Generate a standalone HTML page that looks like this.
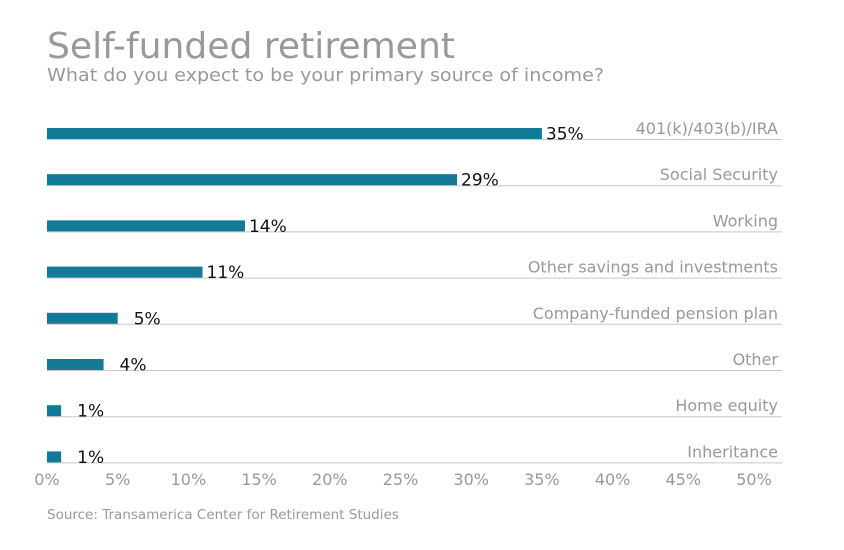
<!DOCTYPE html>
<html><head><meta charset="utf-8"><style>
html,body{margin:0;padding:0;background:#fff;}
svg{display:block;font-family:"DejaVu Sans","Liberation Sans",sans-serif;}
</style></head><body>
<svg id="chart" width="844" height="550">
<text x="47" y="58" font-size="36" fill="#999" textLength="408" lengthAdjust="spacingAndGlyphs">Self-funded retirement</text>
<text x="47" y="81" font-size="18" fill="#999" textLength="557" lengthAdjust="spacingAndGlyphs">What do you expect to be your primary source of income?</text>
<g id="rows"></g>
<g id="ticks"></g>
<text x="47" y="519" font-size="13.5" fill="#999">Source: Transamerica Center for Retirement Studies</text>
</svg>
<script>
const categories = ["401(k)/403(b)/IRA","Social Security","Working","Other savings and investments","Company-funded pension plan","Other","Home equity","Inheritance"];
const values = [35,29,14,11,5,4,1,1];
const tickValues = [0,5,10,15,20,25,30,35,40,45,50];
const NS="http://www.w3.org/2000/svg";
const x0=47, pxPer=14.14, rowTop=139, rowStep=46.2, lineEnd=782;
const xs=v=>x0+v*pxPer;
const ys=i=>rowTop+i*rowStep;
function mk(t,a,p){const e=document.createElementNS(NS,t);for(const k in a)e.setAttribute(k,a[k]);p.appendChild(e);return e;}
const rows=document.getElementById('rows');
categories.forEach((c,i)=>{
  const y=ys(i);
  const ln=mk('line',{x1:x0,x2:lineEnd,y1:y+0.5,y2:y+0.5,stroke:'#c8c8c8','stroke-width':1},rows);
  
  
  const b=mk('rect',{x:x0,y:y-11,width:xs(values[i])-x0,height:11,fill:'#127a96'},rows);
  
  
  const v=mk('text',{x:xs(values[i])+(values[i]<10?16:4),y:y+0.5,'font-size':17,fill:'#111'},rows);
  v.textContent=values[i]+'%';
  
  
  const l=mk('text',{x:778,y:y-5,'font-size':16,fill:'#999','text-anchor':'end'},rows);
  l.textContent=c;
  
  
});
const ticks=document.getElementById('ticks');
tickValues.forEach(t=>{
  const e=mk('text',{x:xs(t),y:485,'font-size':16,fill:'#999','text-anchor':'middle'},ticks);
  e.textContent=t+'%';
  
  
});
</script>
</body></html>
